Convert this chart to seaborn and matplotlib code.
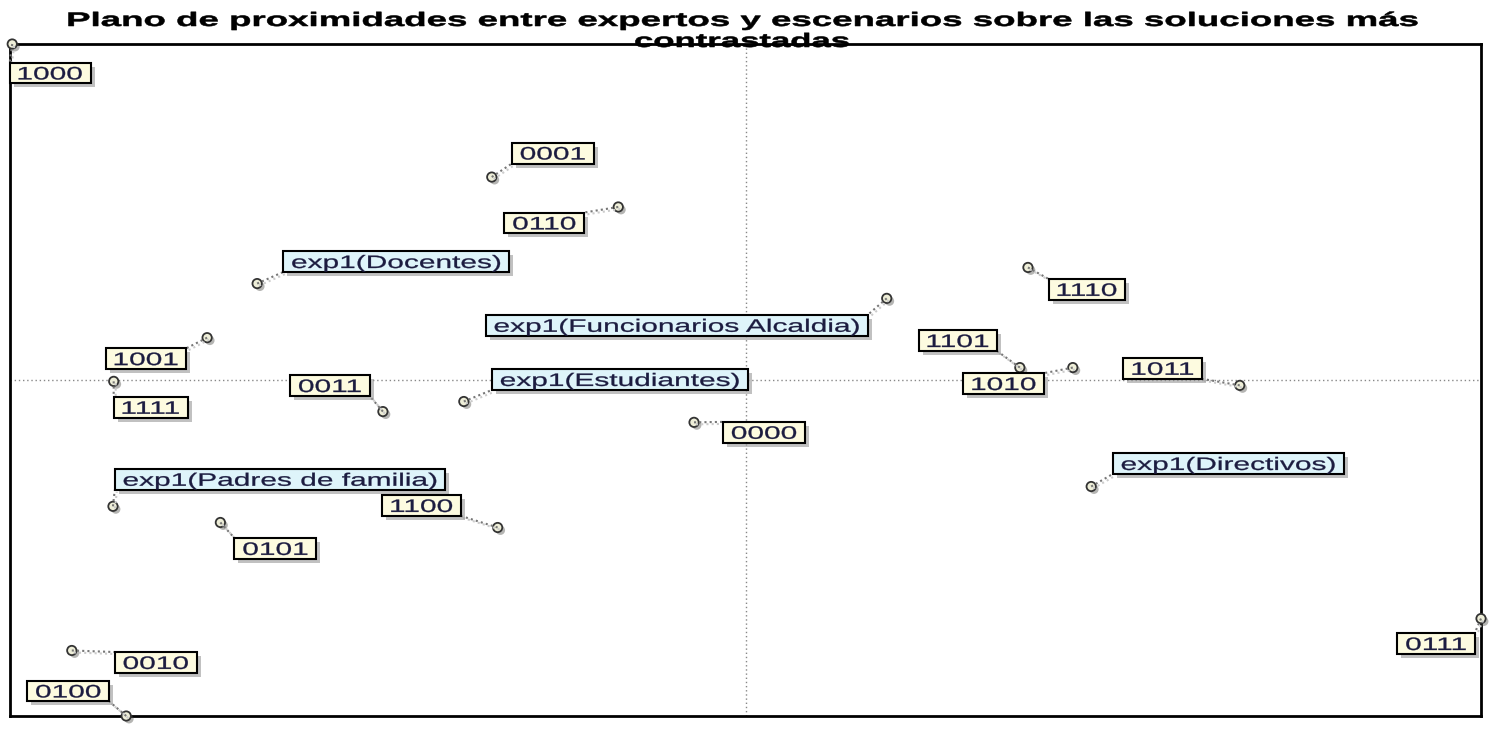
import numpy as np
import pandas as pd
import matplotlib
matplotlib.use("Agg")
import matplotlib.pyplot as plt
import matplotlib.patheffects as pe
import matplotlib.transforms as mtransforms
from matplotlib.textpath import TextPath
from matplotlib.patches import PathPatch, Rectangle
from matplotlib.lines import Line2D
from matplotlib.font_manager import FontProperties
import seaborn as sns

# Coordenadas del plano (ejes normalizados -1..1)
labels = ["1000", "0001", "0110", "exp1(Docentes)", "exp1(Funcionarios Alcaldia)",
          "1110", "1001", "1101", "1010", "1011", "1111", "0011",
          "exp1(Estudiantes)", "0000", "exp1(Directivos)", "exp1(Padres de familia)",
          "1100", "0101", "0111", "0010", "0100"]
x_vals = [-0.997, -0.345, -0.173, -0.664, 0.192, 0.384, -0.732, 0.373, 0.445, 0.672,
          -0.859, -0.493, -0.383, -0.070, 0.470, -0.860, -0.337, -0.714, 1.0, -0.916, -0.842]
y_vals = [1.0, 0.604, 0.515, 0.287, 0.243, 0.335, 0.126, 0.037, 0.037, -0.016,
          -0.004, -0.094, -0.064, -0.126, -0.317, -0.376, -0.439, -0.424, -0.71, -0.805, -1.0]

# desplazamiento del centro de cada etiqueta respecto al punto (pixeles)
offsets = [(38, -29), (61, 24), (-74, -16), (139, 22), (-210, -27),
           (59, -22), (-61, -21), (-62, 27), (-69, -16), (-77, 17),
           (37, -26), (-53, 26), (156, 22), (70, -10), (137, 23),
           (167, 27), (-76, 22), (55, -26), (-45, -25), (84, -12), (-58, 25)]

title_1 = "Plano de proximidades entre expertos y escenarios sobre las soluciones más"
title_2 = "contrastadas"

Data = pd.DataFrame({"label": labels, "x": x_vals, "y": y_vals})
Data["tipo"] = np.where(Data["label"].str.startswith("exp"), "experto", "escenario")

sns.set_style("white")
plt.rcParams["font.family"] = ["Liberation Sans", "DejaVu Sans"]

W, H = 1494, 742
fig = plt.figure(figsize=(W / 100, H / 100), dpi=100)
ax = fig.add_axes([10 / W, 1 - 716 / H, 1471 / W, 672 / H])

ax.axvline(0, color="#888888", linestyle=(0, (1, 2)), linewidth=1, zorder=1)
ax.axhline(0, color="#888888", linestyle=(0, (1, 2)), linewidth=1, zorder=1)

sns.scatterplot(data=Data, x="x", y="y", ax=ax, s=45, color="#eeeed8",
                edgecolor="#333333", linewidth=1.3, zorder=5, legend=False,
                clip_on=False,
                path_effects=[pe.SimplePatchShadow(offset=(2, -2), alpha=0.4), pe.Normal()])

ax.set_xlim(-1, 1)
ax.set_ylim(-1, 1)
ax.set_xticks([])
ax.set_yticks([])
ax.set_xlabel("")
ax.set_ylabel("")
for sp in ax.spines.values():
    sp.set_visible(True)
    sp.set_color("black")
    sp.set_linewidth(2)

ident = mtransforms.IdentityTransform()
reg = FontProperties(family="Liberation Sans")
bold = FontProperties(family="Liberation Sans", weight="bold")


def stretched_text(s, cx, cy, size, sx, prop, color, zorder, stroke=0.5):
    # texto ensanchado horizontalmente, centrado en (cx, cy) en pixeles
    tp = TextPath((0, 0), s, size=size, prop=prop)
    ext = tp.get_extents()
    tr = (mtransforms.Affine2D()
          .translate(-(ext.x0 + ext.x1) / 2, -0.716 * size / 2)
          .scale(sx, 1).translate(cx, cy))
    fig.add_artist(PathPatch(tr.transform_path(tp), fc=color, ec=color, lw=stroke,
                             transform=ident, zorder=zorder))
    return ext.width * sx


size, sx = 18, 1.66
padx, pady = 9, 4
for i, row in Data.iterrows():
    fc = "#def4fa" if row["tipo"] == "experto" else "#fdfbe0"
    px, py = ax.transData.transform((row["x"], row["y"]))
    cx, cy = px + offsets[i][0], py + offsets[i][1]
    tw = TextPath((0, 0), row["label"], size=size, prop=reg).get_extents().width * sx
    bw, bh = tw + 2 * padx, 0.716 * size + 2 * pady
    x0, y0 = cx - bw / 2, cy - bh / 2
    # linea guia al vertice mas cercano
    corner_x = x0 if abs(px - x0) < abs(px - (x0 + bw)) else x0 + bw
    corner_y = y0 if abs(py - y0) < abs(py - (y0 + bh)) else y0 + bh
    fig.add_artist(Line2D([px + 2, corner_x + 2], [py - 2, corner_y - 2], color="#cccccc",
                          lw=1.5, ls=(0, (1, 1.5)), transform=ident, zorder=3))
    fig.add_artist(Line2D([px, corner_x], [py, corner_y], color="#777777",
                          lw=1.5, ls=(0, (1, 1.5)), transform=ident, zorder=3))
    fig.add_artist(Rectangle((x0 + 4, y0 - 4), bw, bh, fc="#999999", ec="none", alpha=0.6,
                             transform=ident, zorder=6))
    fig.add_artist(Rectangle((x0, y0), bw, bh, fc=fc, ec="black", lw=1.5,
                             transform=ident, zorder=7))
    stretched_text(row["label"], cx, cy, size, sx, reg, "#1c1c40", 8, stroke=0.2)

stretched_text(title_1, 743, H - 19, 19.5, 1.88, bold, "black", 9, stroke=0.4)
stretched_text(title_2, 742, H - 40, 19.5, 1.78, bold, "black", 9, stroke=0.4)

fig.savefig("out.png", dpi=100)
